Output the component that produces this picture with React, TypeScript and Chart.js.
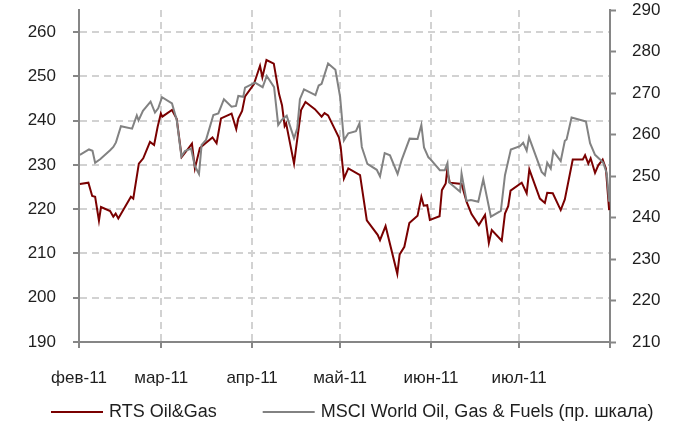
import { useEffect, useRef } from 'react';
import { Chart, registerables } from 'chart.js';

Chart.register(...registerables);

// Month tick labels (x axis, days since 1 Feb 2011)
const monthLabels = ['фев-11', 'мар-11', 'апр-11', 'май-11', 'июн-11', 'июл-11', ''];
const monthStartDays = [0, 28, 59, 89, 120, 150, 181];

const leftTicks = [190, 200, 210, 220, 230, 240, 250, 260];
const rightTicks = [210, 220, 230, 240, 250, 260, 270, 280, 290];

const seriesNames = ['RTS Oil&Gas', 'MSCI World Oil, Gas & Fuels (пр. шкала)'];

// RTS Oil&Gas (left axis)
const rtsDays = [
  0.3, 3.2, 4.5, 5.5, 6.8, 7.5, 10.6, 11.7, 12.5, 13.4, 17.7, 18.5, 20.4, 21.9, 24.2, 25.6, 26.8, 27.9, 28.4,
  31.7, 33.3, 35.0, 36.1, 38.5, 39.5, 41.2, 42.9, 45.5, 46.9, 48.4, 52.0, 53.6, 54.3, 55.6, 56.6, 59.6, 61.7,
  62.5, 63.9, 66.4, 68.2, 69.2, 70.1, 70.6, 73.3, 75.7, 77.2, 80.4, 82.7, 83.7, 84.9, 88.6, 89.2, 90.3, 91.8,
  95.8, 98.1, 101.8, 102.6, 104.5, 108.5, 109.3, 110.9, 112.6, 115.4, 116.7, 117.5, 118.7, 119.6, 122.9, 123.7,
  125.0, 125.5, 126.4, 130.4, 132.1, 133.8, 136.3, 138.4, 139.7, 140.7, 144.1, 145.2, 146.3, 147.1, 150.9, 152.6,
  153.5, 157.1, 158.8, 159.6, 161.5, 164.2, 165.6, 168.3, 171.7, 172.5, 173.6, 174.4, 175.9, 177.0, 178.5, 179.6,
  180.7,
];
const rtsValues = [
  225.7, 226.0, 223.0, 222.8, 217.4, 220.5, 219.6, 218.3, 219.0, 217.9, 222.8, 222.4, 230.3, 231.5, 235.2, 234.5,
  238.6, 241.6, 240.9, 242.4, 240.4, 231.8, 232.7, 234.8, 229.2, 233.8, 234.8, 236.2, 234.9, 240.5, 241.6, 238.1,
  240.5, 242.2, 245.5, 248.2, 252.4, 249.8, 253.7, 252.9, 246.0, 243.5, 238.8, 239.4, 230.3, 242.4, 244.2, 242.6,
  240.9, 241.7, 241.2, 236.2, 234.1, 226.9, 229.2, 227.7, 217.5, 214.2, 213.0, 216.2, 205.4, 209.8, 211.5, 216.9,
  218.5, 222.8, 220.8, 220.9, 217.6, 218.4, 224.3, 225.8, 228.8, 226.0, 225.7, 221.7, 218.9, 216.4, 218.7, 212.4,
  215.3, 212.9, 219.0, 220.7, 224.2, 226.0, 223.6, 229.0, 222.4, 221.4, 223.7, 223.6, 219.8, 222.2, 231.2, 231.2,
  232.2, 230.3, 231.5, 228.2, 229.9, 231.2, 229.2, 219.8,
];

// MSCI World Oil, Gas & Fuels (right axis)
const msciDays = [
  0.3, 3.4, 4.6, 5.5, 7.3, 10.6, 11.7, 12.6, 14.3, 18.1, 19.7, 20.3, 21.8, 24.4, 25.9, 27.0, 28.3, 31.7, 33.3,
  34.9, 36.1, 38.2, 39.5, 40.9, 41.8, 43.3, 45.8, 47.5, 49.4, 52.0, 53.5, 54.3, 56.0, 56.6, 60.0, 62.6, 64.0,
  66.5, 67.9, 69.1, 70.8, 73.3, 74.4, 75.3, 76.7, 80.6, 81.7, 82.7, 84.9, 87.4, 89.0, 90.3, 91.8, 94.4, 95.6,
  96.4, 98.3, 101.5, 102.6, 104.2, 106.0, 108.6, 110.0, 112.7, 115.4, 116.7, 117.6, 119.1, 120.0, 123.0, 124.7,
  125.6, 126.1, 129.9, 130.4, 132.1, 133.6, 136.1, 137.8, 140.4, 143.8, 145.2, 147.2, 150.3, 151.4, 152.6, 153.4,
  157.7, 158.8, 159.6, 160.8, 161.7, 164.2, 165.6, 166.2, 167.9, 171.9, 172.8, 174.2, 175.9, 177.6, 178.7, 179.9,
  180.7,
];
const msciValues = [
  255.1, 256.4, 256.1, 253.2, 254.1, 256.2, 257.0, 258.1, 262.0, 261.4, 264.6, 263.4, 265.7, 267.9, 265.3, 266.3,
  269.0, 267.5, 263.5, 254.7, 256.0, 256.6, 252.4, 250.5, 257.5, 258.7, 264.7, 265.1, 268.5, 266.7, 266.9, 269.3,
  269.1, 271.3, 272.5, 271.4, 274.1, 271.4, 262.3, 263.5, 264.5, 259.1, 261.5, 268.5, 270.9, 269.5, 271.8, 272.2,
  277.1, 275.6, 269.1, 258.6, 260.3, 260.8, 262.7, 257.0, 252.9, 251.5, 249.9, 255.5, 255.0, 250.5, 253.9, 259.0,
  258.9, 262.3, 256.9, 254.5, 253.9, 251.4, 251.4, 253.1, 248.5, 246.2, 250.6, 244.0, 244.2, 243.8, 249.2, 240.2,
  241.6, 250.2, 256.4, 257.2, 258.0, 256.1, 259.3, 251.0, 250.2, 253.2, 251.8, 256.0, 253.6, 258.5, 258.8, 264.1,
  263.3, 263.1, 257.9, 255.1, 254.0, 253.2, 250.6, 243.8,
];

const FONT_FAMILY = '"Liberation Sans", Arial, sans-serif';
const TEXT_COLOR = '#1e1e1e';
const AXIS_COLOR = '#868686';
const GRID_COLOR = '#d2d2d2';
const RED = '#7a0000';
const GRAY = '#828282';

function zeroPad(s: any) {
  s.paddingTop = 0;
  s.paddingBottom = 0;
  s.paddingLeft = 0;
  s.paddingRight = 0;
}

const legendPlugin = {
  id: 'bottomLegend',
  afterDraw(chart: any) {
    const ctx = chart.ctx as CanvasRenderingContext2D;
    const colors = [RED, GRAY];
    const y = 412;
    let x = 51;
    ctx.save();
    ctx.font = `18px ${FONT_FAMILY}`;
    ctx.textBaseline = 'middle';
    ctx.textAlign = 'left';
    seriesNames.forEach((name, i) => {
      ctx.strokeStyle = colors[i];
      ctx.lineWidth = 2;
      ctx.beginPath();
      ctx.moveTo(x, y);
      ctx.lineTo(x + 52, y);
      ctx.stroke();
      ctx.fillStyle = TEXT_COLOR;
      ctx.fillText(name, x + 58, y);
      x = x + 58 + ctx.measureText(name).width + 46;
    });
    ctx.restore();
  },
};

export default function App() {
  const ref = useRef<HTMLCanvasElement>(null);
  useEffect(() => {
    document.body.style.margin = '0';
    const tickFont = { family: FONT_FAMILY, size: 17 };
    const chart = new Chart(ref.current as HTMLCanvasElement, {
      type: 'line',
      data: {
        datasets: [
          {
            label: seriesNames[0],
            data: rtsDays.map((d, i) => ({ x: d, y: rtsValues[i] })),
            borderColor: RED,
            borderWidth: 2,
            pointRadius: 0,
            tension: 0,
            yAxisID: 'y',
            order: 1,
          },
          {
            label: seriesNames[1],
            data: msciDays.map((d, i) => ({ x: d, y: msciValues[i] })),
            borderColor: GRAY,
            borderWidth: 2,
            pointRadius: 0,
            tension: 0,
            yAxisID: 'y1',
            order: 0,
          },
        ],
      },
      options: {
        animation: false,
        responsive: false,
        devicePixelRatio: 1,
        layout: { padding: { top: 10, left: 0, right: 0, bottom: 0 } },
        plugins: { legend: { display: false }, tooltip: { enabled: false } },
        scales: {
          x: {
            type: 'linear',
            min: monthStartDays[0],
            max: monthStartDays[monthStartDays.length - 1],
            afterBuildTicks: (s: any) => {
              s.ticks = monthStartDays.map((v) => ({ value: v }));
            },
            afterFit: (s: any) => {
              s.height = 85;
              zeroPad(s);
            },
            ticks: {
              autoSkip: false,
              maxRotation: 0,
              minRotation: 0,
              padding: 20,
              color: TEXT_COLOR,
              font: tickFont,
              callback: (_v: any, i: number) => monthLabels[i],
            },
            grid: {
              color: (c: any) =>
                c.tick && (c.tick.value === monthStartDays[0] || c.tick.value === monthStartDays[monthStartDays.length - 1])
                  ? 'rgba(0,0,0,0)'
                  : GRID_COLOR,
              lineWidth: 2,
              tickColor: AXIS_COLOR,
              tickLength: 6,
              tickWidth: 2,
              tickBorderDash: [],
            },
            border: { display: true, color: AXIS_COLOR, width: 2, dash: [7, 5] },
          },
          y: {
            type: 'linear',
            position: 'left',
            min: 190,
            max: 265,
            afterBuildTicks: (s: any) => {
              s.ticks = leftTicks.map((v) => ({ value: v }));
            },
            afterFit: (s: any) => {
              s.width = 79;
              zeroPad(s);
            },
            ticks: { padding: 17, color: TEXT_COLOR, font: tickFont },
            grid: {
              color: (c: any) => (c.tick && c.tick.value === leftTicks[0] ? 'rgba(0,0,0,0)' : GRID_COLOR),
              lineWidth: 2,
              tickColor: AXIS_COLOR,
              tickLength: 6,
              tickWidth: 2,
              tickBorderDash: [],
            },
            border: { display: true, color: AXIS_COLOR, width: 2, dash: [7, 5] },
          },
          y1: {
            type: 'linear',
            position: 'right',
            min: 210,
            max: 290,
            afterBuildTicks: (s: any) => {
              s.ticks = rightTicks.map((v) => ({ value: v }));
            },
            afterFit: (s: any) => {
              s.width = 66;
              zeroPad(s);
            },
            ticks: { padding: 16, color: TEXT_COLOR, font: tickFont },
            grid: {
              drawOnChartArea: false,
              tickColor: AXIS_COLOR,
              tickLength: 6,
              tickWidth: 2,
              tickBorderDash: [],
            },
            border: { display: true, color: AXIS_COLOR, width: 2 },
          },
        },
      } as any,
      plugins: [legendPlugin],
    });
    return () => chart.destroy();
  }, []);
  return (
    <div style={{ width: 676, height: 427, background: '#fff' }}>
      <canvas ref={ref} width={676} height={427} style={{ display: 'block' }} />
    </div>
  );
}
